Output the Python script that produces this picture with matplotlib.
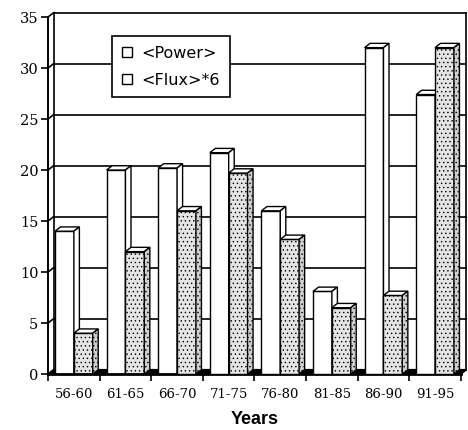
import matplotlib
matplotlib.use('Agg')
import matplotlib.pyplot as plt
from matplotlib.patches import Polygon, Patch

# Data
years = ['56-60', '61-65', '66-70', '71-75', '76-80', '81-85', '86-90', '91-95']
power = [14.0, 20.0, 20.2, 21.7, 16.0, 8.1, 32.0, 27.4]
flux6 = [4.0, 12.0, 16.0, 19.7, 13.2, 6.5, 7.7, 32.0]

# 3D depth offsets (x in category units, y in value units)
dx, dy = 0.107, 0.42
bar_w = 0.366
off_power, off_flux = 0.135, 0.50

fig = plt.figure(figsize=(4.68, 4.30), dpi=100)
ax = fig.add_axes([0.1026, 0.1302, 0.8821, 0.8302])
ax.set_xlim(0, len(years))
ax.set_ylim(0, 35)

# back wall frame and gridlines
n = len(years)
lk = dict(color='black', lw=1.2, clip_on=False, zorder=1)
for v in range(5, 36, 5):
    ax.plot([dx, n + dx], [v + dy, v + dy], **lk)
    ax.plot([0, dx], [v, v + dy], **lk)
ax.plot([dx, dx], [dy, 35 + dy], **lk)
ax.plot([n + dx, n + dx], [dy, 35 + dy], **lk)
ax.plot([0, 0], [0, 35], color='black', lw=1.4, clip_on=False, zorder=6)
# floor
floor = Polygon([(0, 0), (dx, dy), (n + dx, dy), (n, 0)], closed=True,
                facecolor='black', edgecolor='black', lw=1.2, clip_on=False, zorder=2)
ax.add_patch(floor)


def draw_bar(x0, h, face, hatch, side_face, z):
    x1 = x0 + bar_w
    ax.bar(x0, h, width=bar_w, align='edge', facecolor=face, edgecolor='black',
           hatch=hatch, lw=1.0, zorder=z)
    top = Polygon([(x0, h), (x0 + dx, h + dy), (x1 + dx, h + dy), (x1, h)],
                  closed=True, facecolor='white', edgecolor='black', lw=1.0, zorder=z)
    side = Polygon([(x1, 0), (x1, h), (x1 + dx, h + dy), (x1 + dx, dy)],
                   closed=True, facecolor=side_face, edgecolor='black', hatch=hatch,
                   lw=1.0, zorder=z)
    ax.add_patch(top)
    ax.add_patch(side)


plt.rcParams['hatch.linewidth'] = 0.5
for i in range(n):
    draw_bar(i + off_power, power[i], 'white', None, 'white', 3 + 2 * i)
    draw_bar(i + off_flux, flux6[i], '#e4e4e4', '....', '#cfcfcf', 4 + 2 * i)

# axes styling
for s in ['top', 'right', 'left']:
    ax.spines[s].set_visible(False)
ax.spines['bottom'].set_linewidth(2.0)
ax.spines['bottom'].set_zorder(7)

ax.set_yticks(range(0, 36, 5))
ax.tick_params(axis='y', direction='out', length=5, width=1.2, pad=2,
               labelsize=10.5, labelfontfamily='DejaVu Serif')
ax.set_xticks(range(0, n + 1))
ax.set_xticklabels([])
ax.set_xticks([i + 0.5 for i in range(n)], minor=True)
ax.set_xticklabels(years, minor=True, fontfamily='DejaVu Serif', fontsize=9.5)
ax.tick_params(axis='x', which='major', direction='out', length=5, width=1.2)
ax.tick_params(axis='x', which='minor', length=0, pad=10)
ax.set_xlabel('Years', fontfamily='Liberation Sans', fontweight='bold',
              fontsize=13, labelpad=7)

handles = [Patch(facecolor='white', edgecolor='black', lw=1.0, label='<Power>'),
           Patch(facecolor='white', edgecolor='black', lw=1.0, label='<Flux>*6')]
leg = ax.legend(handles=handles, loc='upper left',
                bbox_to_anchor=(112 / 468, 1 - 36 / 430), bbox_transform=fig.transFigure,
                fontsize=11.5, frameon=True, fancybox=False, framealpha=1,
                edgecolor='black', handlelength=0.65, handleheight=0.65,
                handletextpad=0.6, labelspacing=0.75, borderpad=0.6, borderaxespad=0)
leg.get_frame().set_linewidth(1.2)
leg.set_zorder(30)

fig.savefig('out.png', dpi=100)
